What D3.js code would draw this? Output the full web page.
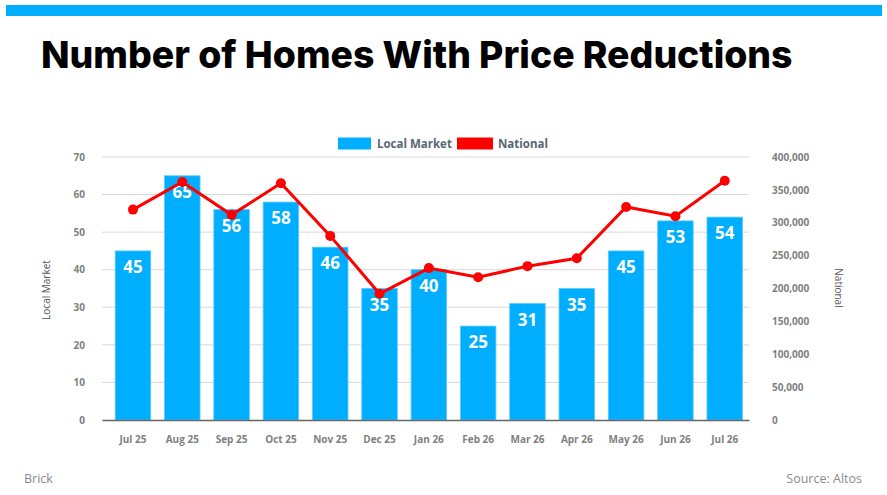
<!DOCTYPE html>
<html><head><meta charset="utf-8">
<script src="https://cdn.jsdelivr.net/npm/d3@7"></script>
<style>
html,body{margin:0;padding:0;background:#fff;}
svg{display:block;font-family:"Open Sans","Noto Sans",sans-serif;}
</style></head>
<body><svg id="c" width="887" height="495"></svg>
<script>
const months = ["Jul 25","Aug 25","Sep 25","Oct 25","Nov 25","Dec 25","Jan 26","Feb 26","Mar 26","Apr 26","May 26","Jun 26","Jul 26"];
const localMarket = [45,65,56,58,46,35,40,25,31,35,45,53,54];
const national = [320000,362000,312000,360000,280000,192000,231000,217000,234000,246000,324000,310000,364000];
const leftTicks = [0,10,20,30,40,50,60,70];
const rightTicks = [0,50000,100000,150000,200000,250000,300000,350000,400000];

const svg = d3.select("#c");
const L = 102, R = 749, T = 157, B = 420;
const blue = "#00aeff", red = "#ff0000";

// top band
svg.append("rect").attr("x",6).attr("y",5).attr("width",876).attr("height",11).attr("fill",blue);

// title
const title = svg.append("text").attr("x",41).attr("y",68)
  .attr("font-family","Inter, 'Open Sans', sans-serif").attr("font-weight",800)
  .attr("font-size",38).attr("fill","#000").text("Number of Homes With Price Reductions");
const tw = title.node().getComputedTextLength();
title.attr("font-size", 38*752/tw);

const x = d3.scaleBand().domain(months).range([L,R]).paddingInner(0.28).paddingOuter(0.2).align(0.67);
const yL = d3.scaleLinear().domain([0,70]).range([B,T]);
const yR = d3.scaleLinear().domain([0,400000]).range([B,T]);

// gridlines
svg.append("g").selectAll("line").data(leftTicks.slice(1)).join("line")
  .attr("x1",L).attr("x2",R).attr("y1",d=>yL(d)).attr("y2",d=>yL(d))
  .attr("stroke","#d9d9d9").attr("stroke-width",1);

// left axis
const gl = svg.append("g").attr("transform",`translate(${L},0)`)
  .call(d3.axisLeft(yL).tickValues(leftTicks).tickSize(0).tickPadding(17));
gl.select(".domain").remove();
gl.selectAll("text").attr("font-size",10).attr("font-weight",700).attr("fill","#7f7f7f").attr("font-family","'Open Sans',sans-serif");

// right axis
const gr = svg.append("g").attr("transform",`translate(${R},0)`)
  .call(d3.axisRight(yR).tickValues(rightTicks).tickSize(0).tickPadding(23).tickFormat(d3.format(",")));
gr.select(".domain").remove();
gr.selectAll("text").attr("font-size",10).attr("font-weight",700).attr("fill","#7f7f7f").attr("font-family","'Open Sans',sans-serif");

// bars
svg.append("g").selectAll("rect").data(localMarket).join("rect")
  .attr("x",(d,i)=>x(months[i])).attr("width",x.bandwidth())
  .attr("y",d=>yL(d)).attr("height",d=>B-yL(d))
  .attr("fill",blue).attr("stroke","#5cc9ff").attr("stroke-width",0.8);

// x axis
const gx = svg.append("g").attr("transform",`translate(0,${B})`)
  .call(d3.axisBottom(x).tickSize(0).tickPadding(16));
gx.select(".domain").attr("stroke","#666").attr("stroke-width",1.5);
gx.selectAll("text").attr("font-size",10).attr("font-weight",700).attr("fill","#7f7f7f").attr("font-family","'Open Sans',sans-serif");

// bar labels
svg.append("g").selectAll("text").data(localMarket).join("text")
  .attr("x",(d,i)=>x(months[i])+x.bandwidth()/2).attr("y",d=>yL(d)+22)
  .attr("text-anchor","middle").attr("font-size",17).attr("font-weight",700)
  .attr("font-family","'Open Sans',sans-serif")
  .attr("fill","#fff").text(d=>d);

// line
const cx = (d,i)=>x(months[i])+x.bandwidth()/2;
svg.append("path").datum(national)
  .attr("d", d3.line().x(cx).y(d=>yR(d)))
  .attr("fill","none").attr("stroke",red).attr("stroke-width",3);
svg.append("g").selectAll("circle").data(national).join("circle")
  .attr("cx",cx).attr("cy",d=>yR(d)).attr("r",5).attr("fill",red);

// axis titles
svg.append("text").attr("transform","translate(50,290) rotate(-90)").attr("text-anchor","middle")
  .attr("font-size",10).attr("fill","#555").text("Local Market");
svg.append("text").attr("transform","translate(835,288) rotate(90)").attr("text-anchor","middle")
  .attr("font-size",10).attr("fill","#555").text("National");

// legend
const lg = svg.append("g");
lg.append("rect").attr("x",338).attr("y",137.5).attr("width",33).attr("height",12).attr("fill",blue);
lg.append("text").attr("x",377).attr("y",147.5).attr("font-size",11.5).attr("font-weight",700).attr("fill","#5a6670").text("Local Market");
lg.append("rect").attr("x",457).attr("y",137.5).attr("width",36).attr("height",12).attr("fill",red);
lg.append("text").attr("x",498).attr("y",147.5).attr("font-size",11.5).attr("font-weight",700).attr("fill","#5a6670").text("National");

// footer
svg.append("text").attr("x",24).attr("y",483).attr("font-size",12.5).attr("fill","#8a8a8a").text("Brick");
svg.append("text").attr("x",862).attr("y",483).attr("text-anchor","end").attr("font-size",12.5).attr("fill","#8a8a8a").text("Source: Altos");
</script></body></html>
